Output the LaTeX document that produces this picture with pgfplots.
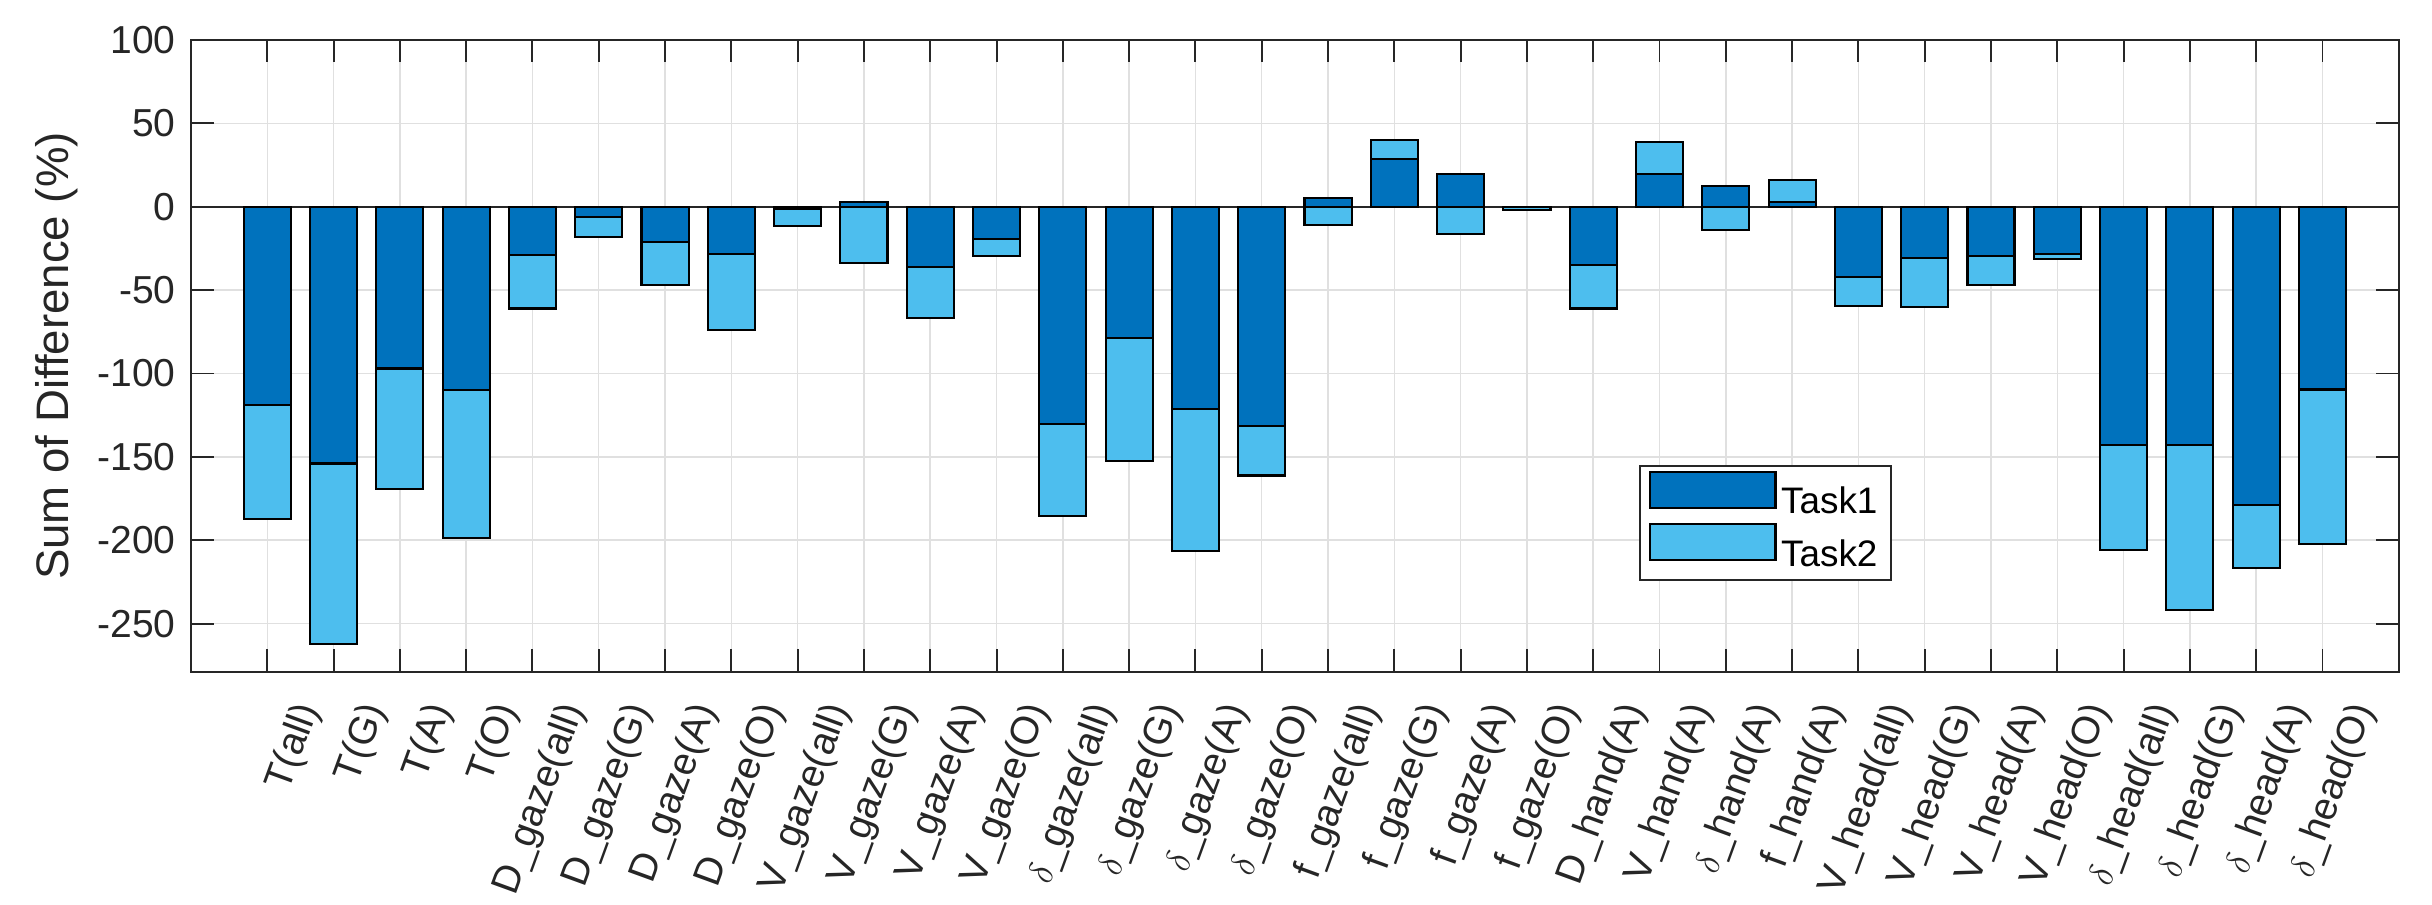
\documentclass[border=0pt]{standalone}
\usepackage{fontspec}
\setmainfont{Liberation Sans}
\usepackage{pgfplots}
\usepackage{pgfplotstable}
\pgfplotsset{compat=1.18}

\definecolor{taskone}{RGB}{0,114,189}
\definecolor{tasktwo}{RGB}{77,190,238}
\definecolor{axgray}{RGB}{38,38,38}

\pgfplotsset{bigbox legend/.style={legend image code/.code={\draw[##1] (0pt,-1.6pt) rectangle (41.9pt,10.4pt);}}}

% sum of difference per measure: task1 then task2 (stacked on top of task1)
\pgfplotstableread{
x t1 t2
1 -119 -68.4
2 -154 -108.2
3 -97 -72.4
4 -110 -88.6
5 -29 -32
6 -6 -12
7 -21 -26
8 -28.4 -45.6
9 -1.4 -10.2
10 3 -37
11 -36.4 -30.2
12 -19.6 -9.8
13 -130.4 -55.2
14 -78.6 -73.8
15 -121.2 -85.4
16 -131.4 -29.8
17 5.4 -16.4
18 28.6 11.6
19 19.6 -36.2
20 -0.3 -1.7
21 -35 -26
22 19.4 19.6
23 12.6 -26.4
24 3 13.2
25 -42 -17.6
26 -30.6 -29.4
27 -29.6 -17.4
28 -28.6 -3
29 -143 -62.8
30 -143 -99
31 -179 -37.8
32 -109.6 -92.8
}\datatable

\begin{document}
\begin{tikzpicture}
\path[use as bounding box] (0,0) rectangle (810.67pt,301.67pt);
\begin{axis}[
    at={(63.67pt,77.67pt)}, anchor=south west,
    scale only axis,
    width=735.9pt, height=210.67pt,
    ybar stacked,
    stack negative=on previous,
    bar width=0.71,
    xmin=-0.15, xmax=33.15,
    ymin=-279, ymax=100,
    xtick={1,...,32},
    xticklabels={
        {T(all)},{T(G)},{T(A)},{T(O)},
        {D\_gaze(all)},{D\_gaze(G)},{D\_gaze(A)},{D\_gaze(O)},
        {V\_gaze(all)},{V\_gaze(G)},{V\_gaze(A)},{V\_gaze(O)},
        {$\delta$\_gaze(all)},{$\delta$\_gaze(G)},{$\delta$\_gaze(A)},{$\delta$\_gaze(O)},
        {f\_gaze(all)},{f\_gaze(G)},{f\_gaze(A)},{f\_gaze(O)},
        {D\_hand(A)},{V\_hand(A)},{$\delta$\_hand(A)},{f\_hand(A)},
        {V\_head(all)},{V\_head(G)},{V\_head(A)},{V\_head(O)},
        {$\delta$\_head(all)},{$\delta$\_head(G)},{$\delta$\_head(A)},{$\delta$\_head(O)}},
    ytick={-250,-200,...,100},
    tick pos=both,
    tick align=inside,
    major tick length=7.5pt,
    tick style={axgray, line width=0.65pt},
    axis line style={axgray, line width=0.65pt},
    grid=major,
    major grid style={black!12, line width=0.5pt},
    extra y ticks={0},
    extra y tick labels={},
    extra y tick style={grid=major, major grid style={axgray, line width=0.6pt}, major tick length=0pt},
    /pgf/number format/assume math mode=true,
    yticklabel style={font=\fontsize{13}{15}\selectfont, text=axgray, xshift=-1.6pt},
    xticklabel style={font=\fontsize{13}{15}\selectfont, text=axgray,
        xshift=14pt, yshift=-11pt, rotate=70, anchor=east, inner sep=0pt},
    ylabel={Sum of Difference (\%)},
    every axis y label/.style={at={(axis description cs:-0.0609,0.5)}, rotate=90, anchor=center,
        font=\fontsize{15.2}{18}\selectfont, text=axgray},
    legend style={at={(rel axis cs:0.6558,0.1445)}, anchor=south west,
        draw=axgray, line width=0.6pt, fill=white,
        font=\fontsize{12.3}{14}\selectfont,
        inner xsep=3pt, inner ysep=1.5pt,
        nodes={inner sep=1.5pt},
        row sep=0pt,
        /tikz/every even column/.append style={column sep=1pt}},
    legend cell align=left,
]
\addplot[fill=taskone, draw=black, line width=0.7pt, bigbox legend]
    table[x=x, y=t1] {\datatable};
\addplot[fill=tasktwo, draw=black, line width=0.7pt, bigbox legend]
    table[x=x, y=t2] {\datatable};
\legend{Task1,Task2}
\end{axis}
\end{tikzpicture}
\end{document}
